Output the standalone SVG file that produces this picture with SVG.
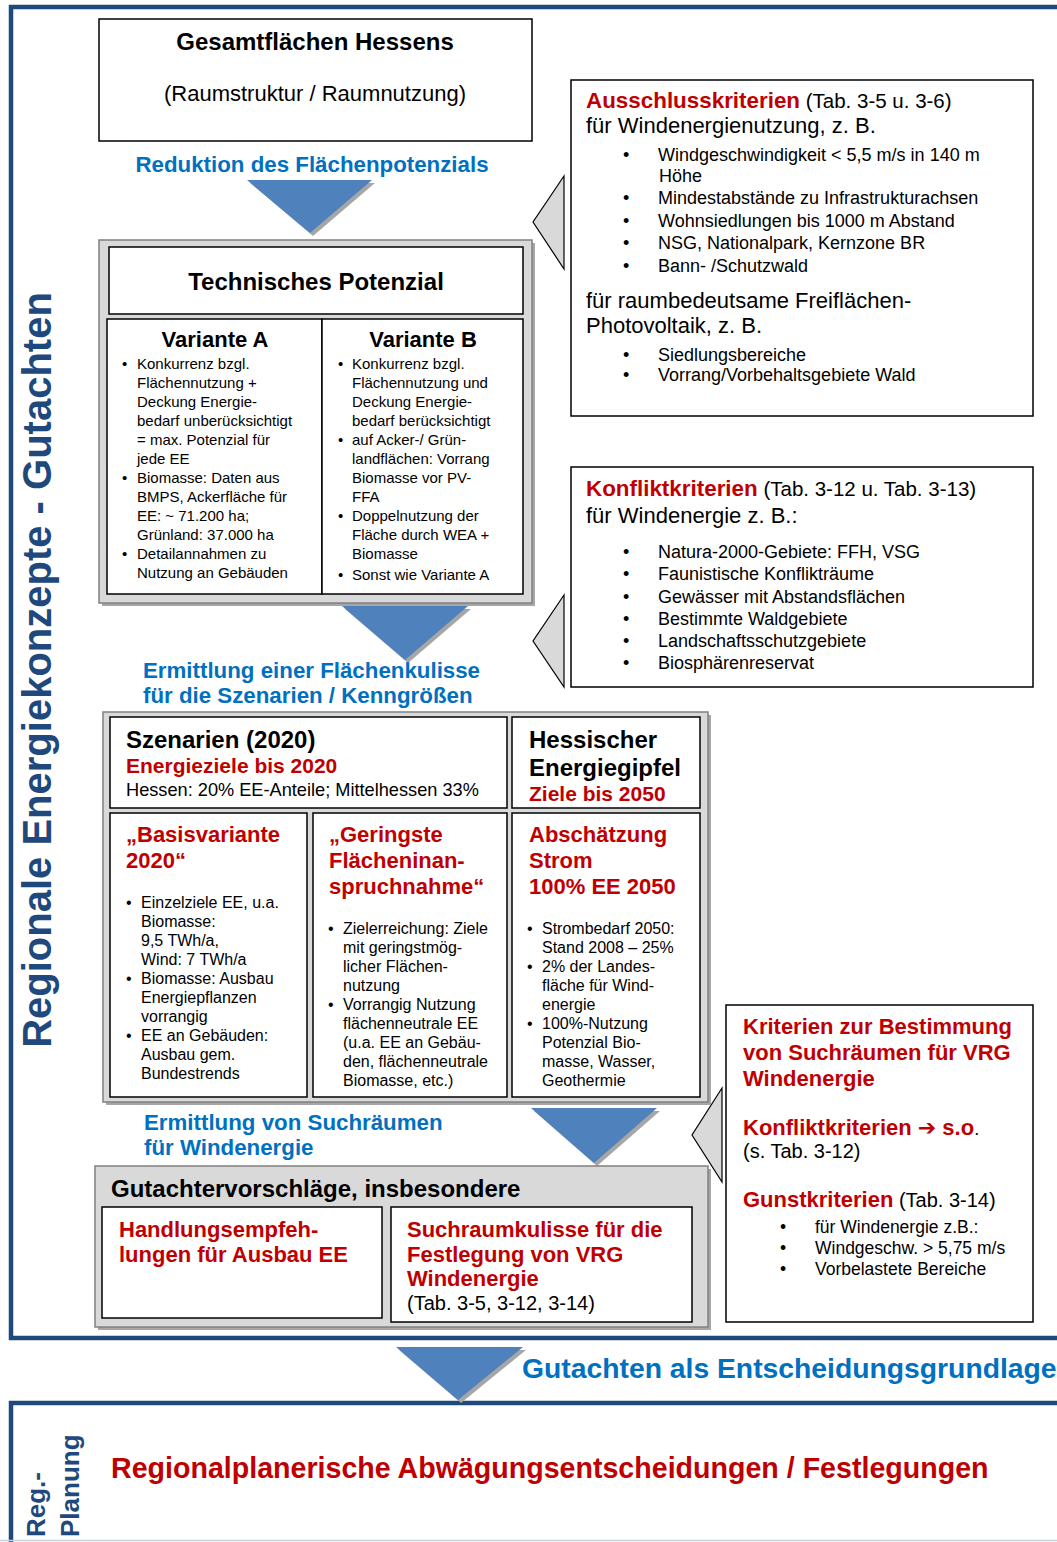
<svg xmlns="http://www.w3.org/2000/svg" width="1057" height="1542" viewBox="0 0 1057 1542">
<style>
text{font-family:"Liberation Sans",Arial,sans-serif;fill:#000}
.b{font-weight:bold}
.red{fill:#C00000}
.blu{fill:#0070C0}
.dk{fill:#1F497D}
.frame{fill:none;stroke:#1F497D;stroke-width:4.5}
.box{fill:#fff;stroke:#000;stroke-width:1.5}
.gbox{fill:#D9D9D9;stroke:#808080;stroke-width:1.5}
.gsh{fill:#A6A6A6}
.arr{fill:#4F81BD}
.ash{fill:#A6A6A6}
.tri{fill:#D9D9D9;stroke:#000;stroke-width:1.2}
.v{font-size:15px}
.m{font-size:16px}
.r{font-size:18px}
.h{font-size:22px}
.c{text-anchor:middle}
</style>
<rect width="1057" height="1542" fill="#fff"/>
<g id="frames">
<path class="frame" d="M1062 7 H11 V1338 H1062"/>
<path class="frame" d="M1062 1403 H11 V1548"/>
<line x1="0" y1="1540.5" x2="1057" y2="1540.5" stroke="#C8D2DF" stroke-width="1.5"/>
<text class="b dk" font-size="40" text-anchor="middle" transform="translate(51,670) rotate(-90)">Regionale Energiekonzepte - Gutachten</text>
<text class="b dk" font-size="26" transform="translate(45,1537) rotate(-90)">Reg.-</text>
<text class="b dk" font-size="26" transform="translate(79,1537) rotate(-90)">Planung</text>
</g>
<g id="connectors">
<polygon class="ash" points="250,183 375,183 313,236"/>
<polygon class="arr" points="247,180 372,180 310,233"/>
<polygon class="ash" points="345,609 471,609 408,663"/>
<polygon class="arr" points="342,606 468,606 405,660"/>
<polygon class="ash" points="534,1111 660,1111 597,1166"/>
<polygon class="arr" points="531,1108 657,1108 594,1163"/>
<polygon class="ash" points="399,1350 526,1350 461,1403"/>
<polygon class="arr" points="396,1347 523,1347 458,1400"/>
<polygon class="tri" points="564,176 533,222 564,269"/>
<polygon class="tri" points="564,595 533,641 564,687"/>
<polygon class="tri" points="722,1088 692,1135 722,1182"/>
<text class="b blu c" font-size="22.3" x="312" y="172">Reduktion des Flächenpotenzials</text>
<text class="b blu" font-size="22.3" x="143" y="678">Ermittlung einer Flächenkulisse</text>
<text class="b blu" font-size="22.3" x="143" y="703">für die Szenarien / Kenngrößen</text>
<text class="b blu" font-size="22.3" x="144" y="1130">Ermittlung von Suchräumen</text>
<text class="b blu" font-size="22.3" x="144" y="1155">für Windenergie</text>
<text class="b blu" font-size="28.3" x="522" y="1378">Gutachten als Entscheidungsgrundlage</text>
</g>
<g id="gesamt">
<rect class="box" x="99" y="19" width="433" height="122"/>
<text class="b c" font-size="24" x="315" y="50">Gesamtflächen Hessens</text>
<text class="h c" x="315" y="101">(Raumstruktur / Raumnutzung)</text>
</g>
<g id="technisch">
<rect class="gsh" x="102" y="243" width="433" height="363"/>
<rect class="gbox" x="99" y="240" width="433" height="363"/>
<rect class="box" x="109" y="247" width="414" height="67"/>
<text class="b c" font-size="24" x="316" y="290">Technisches Potenzial</text>
</g>
<g id="varianteA">
<rect class="box" x="107" y="319" width="215" height="275"/>
<text class="b h c" x="215" y="347">Variante A</text>
<g class="v">
<text x="122" y="369">•</text><text x="137" y="369">Konkurrenz bzgl.</text>
<text x="137" y="388">Flächennutzung +</text>
<text x="137" y="407">Deckung Energie-</text>
<text x="137" y="426">bedarf unberücksichtigt</text>
<text x="137" y="445">= max. Potenzial für</text>
<text x="137" y="464">jede EE</text>
<text x="122" y="483">•</text><text x="137" y="483">Biomasse: Daten aus</text>
<text x="137" y="502">BMPS, Ackerfläche für</text>
<text x="137" y="521">EE: ~ 71.200 ha;</text>
<text x="137" y="540">Grünland: 37.000 ha</text>
<text x="122" y="559">•</text><text x="137" y="559">Detailannahmen zu</text>
<text x="137" y="578">Nutzung an Gebäuden</text>
</g>
</g>
<g id="varianteB">
<rect class="box" x="322" y="319" width="201" height="275"/>
<text class="b h c" x="423" y="347">Variante B</text>
<g class="v">
<text x="338" y="369">•</text><text x="352" y="369">Konkurrenz bzgl.</text>
<text x="352" y="388">Flächennutzung und</text>
<text x="352" y="407">Deckung Energie-</text>
<text x="352" y="426">bedarf berücksichtigt</text>
<text x="338" y="445">•</text><text x="352" y="445">auf Acker-/ Grün-</text>
<text x="352" y="464">landflächen: Vorrang</text>
<text x="352" y="483">Biomasse vor PV-</text>
<text x="352" y="502">FFA</text>
<text x="338" y="521">•</text><text x="352" y="521">Doppelnutzung der</text>
<text x="352" y="540">Fläche durch WEA +</text>
<text x="352" y="559">Biomasse</text>
<text x="338" y="580">•</text><text x="352" y="580">Sonst wie Variante A</text>
</g>
</g>
<g id="ausschluss">
<rect class="box" x="571" y="80" width="462" height="336"/>
<text x="586" y="108"><tspan class="b red" font-size="22.4">Ausschlusskriterien</tspan><tspan font-size="20.5"> (Tab. 3-5 u. 3-6)</tspan></text>
<text class="h" x="586" y="133">für Windenergienutzung, z. B.</text>
<g class="r">
<text x="623" y="161">•</text><text x="658" y="161">Windgeschwindigkeit &lt; 5,5 m/s in 140 m</text>
<text x="659" y="182">Höhe</text>
<text x="623" y="204">•</text><text x="658" y="204">Mindestabstände zu Infrastrukturachsen</text>
<text x="623" y="227">•</text><text x="658" y="227">Wohnsiedlungen bis 1000 m Abstand</text>
<text x="623" y="249">•</text><text x="658" y="249">NSG, Nationalpark, Kernzone BR</text>
<text x="623" y="272">•</text><text x="658" y="272">Bann- /Schutzwald</text>
<text x="623" y="361">•</text><text x="658" y="361">Siedlungsbereiche</text>
<text x="623" y="381">•</text><text x="658" y="381">Vorrang/Vorbehaltsgebiete Wald</text>
</g>
<text class="h" x="586" y="308">für raumbedeutsame Freiflächen-</text>
<text class="h" x="586" y="333">Photovoltaik, z. B.</text>
</g>
<g id="konflikt">
<rect class="box" x="571" y="467" width="462" height="220"/>
<text x="586" y="496"><tspan class="b red" font-size="22.4">Konfliktkriterien</tspan><tspan font-size="20.5"> (Tab. 3-12 u. Tab. 3-13)</tspan></text>
<text class="h" x="586" y="523">für Windenergie z. B.:</text>
<g class="r">
<text x="623" y="558">•</text><text x="658" y="558">Natura-2000-Gebiete: FFH, VSG</text>
<text x="623" y="580">•</text><text x="658" y="580">Faunistische Konflikträume</text>
<text x="623" y="603">•</text><text x="658" y="603">Gewässer mit Abstandsflächen</text>
<text x="623" y="625">•</text><text x="658" y="625">Bestimmte Waldgebiete</text>
<text x="623" y="647">•</text><text x="658" y="647">Landschaftsschutzgebiete</text>
<text x="623" y="669">•</text><text x="658" y="669">Biosphärenreservat</text>
</g>
</g>
<g id="szenarien">
<rect class="gsh" x="106" y="715" width="605" height="390"/>
<rect class="gbox" x="103" y="712" width="605" height="390"/>
<rect class="box" x="110" y="717" width="397" height="91"/>
<text class="b" font-size="24" x="126" y="748">Szenarien (2020)</text>
<text class="b red" font-size="21" x="126" y="773">Energieziele bis 2020</text>
<text font-size="18.2" x="126" y="796">Hessen: 20% EE-Anteile; Mittelhessen 33%</text>
</g>
<g id="energiegipfel">
<rect class="box" x="512" y="717" width="188" height="91"/>
<text class="b" font-size="24" x="529" y="748">Hessischer</text>
<text class="b" font-size="24" x="529" y="776">Energiegipfel</text>
<text class="b red" font-size="21" x="529" y="801">Ziele bis 2050</text>
</g>
<g id="basisvariante">
<rect class="box" x="110" y="813" width="197" height="284"/>
<text class="b red h" x="126" y="842">„Basisvariante</text>
<text class="b red h" x="126" y="868">2020“</text>
<g class="m">
<text x="126" y="908">•</text><text x="141" y="908">Einzelziele EE, u.a.</text>
<text x="141" y="927">Biomasse:</text>
<text x="141" y="946">9,5 TWh/a,</text>
<text x="141" y="965">Wind: 7 TWh/a</text>
<text x="126" y="984">•</text><text x="141" y="984">Biomasse: Ausbau</text>
<text x="141" y="1003">Energiepflanzen</text>
<text x="141" y="1022">vorrangig</text>
<text x="126" y="1041">•</text><text x="141" y="1041">EE an Gebäuden:</text>
<text x="141" y="1060">Ausbau gem.</text>
<text x="141" y="1079">Bundestrends</text>
</g>
</g>
<g id="geringste">
<rect class="box" x="313" y="813" width="194" height="284"/>
<text class="b red h" x="329" y="842">„Geringste</text>
<text class="b red h" x="329" y="868">Flächeninan-</text>
<text class="b red h" x="329" y="894">spruchnahme“</text>
<g class="m">
<text x="328" y="934">•</text><text x="343" y="934">Zielerreichung: Ziele</text>
<text x="343" y="953">mit geringstmög-</text>
<text x="343" y="972">licher Flächen-</text>
<text x="343" y="991">nutzung</text>
<text x="328" y="1010">•</text><text x="343" y="1010">Vorrangig Nutzung</text>
<text x="343" y="1029">flächenneutrale EE</text>
<text x="343" y="1048">(u.a. EE an Gebäu-</text>
<text x="343" y="1067">den, flächenneutrale</text>
<text x="343" y="1086">Biomasse, etc.)</text>
</g>
</g>
<g id="abschaetzung">
<rect class="box" x="512" y="813" width="188" height="284"/>
<text class="b red h" x="529" y="842">Abschätzung</text>
<text class="b red h" x="529" y="868">Strom</text>
<text class="b red h" x="529" y="894">100% EE 2050</text>
<g class="m">
<text x="527" y="934">•</text><text x="542" y="934">Strombedarf 2050:</text>
<text x="542" y="953">Stand 2008 – 25%</text>
<text x="527" y="972">•</text><text x="542" y="972">2% der Landes-</text>
<text x="542" y="991">fläche für Wind-</text>
<text x="542" y="1010">energie</text>
<text x="527" y="1029">•</text><text x="542" y="1029">100%-Nutzung</text>
<text x="542" y="1048">Potenzial Bio-</text>
<text x="542" y="1067">masse, Wasser,</text>
<text x="542" y="1086">Geothermie</text>
</g>
</g>
<g id="kriterien">
<rect class="box" x="726" y="1005" width="307" height="317"/>
<text class="b red h" x="743" y="1034">Kriterien zur Bestimmung</text>
<text class="b red h" x="743" y="1060">von Suchräumen für VRG</text>
<text class="b red h" x="743" y="1086">Windenergie</text>
<text x="743" y="1135"><tspan class="b red h">Konfliktkriterien </tspan><tspan class="b red" font-size="22" font-family="'DejaVu Sans',sans-serif">➔</tspan><tspan class="b red h"> s.o</tspan><tspan font-size="18">.</tspan></text>
<text font-size="20" x="743" y="1158">(s. Tab. 3-12)</text>
<text x="743" y="1207"><tspan class="b red h">Gunstkriterien</tspan><tspan font-size="20"> (Tab. 3-14)</tspan></text>
<g font-size="17.5">
<text x="780" y="1233">•</text><text x="815" y="1233">für Windenergie z.B.:</text>
<text x="780" y="1254">•</text><text x="815" y="1254">Windgeschw. &gt; 5,75 m/s</text>
<text x="780" y="1275">•</text><text x="815" y="1275">Vorbelastete Bereiche</text>
</g>
</g>
<g id="gutachter">
<rect class="gsh" x="98" y="1169" width="613" height="161"/>
<rect class="gbox" x="95" y="1166" width="613" height="161"/>
<text class="b" font-size="24" x="111" y="1197">Gutachtervorschläge, insbesondere</text>
</g>
<g id="handlung">
<rect class="box" x="102" y="1207" width="280" height="111"/>
<text class="b red h" x="119" y="1237">Handlungsempfeh-</text>
<text class="b red h" x="119" y="1262">lungen für Ausbau EE</text>
</g>
<g id="suchraum">
<rect class="box" x="391" y="1207" width="301" height="115"/>
<text class="b red h" x="407" y="1237">Suchraumkulisse für die</text>
<text class="b red h" x="407" y="1262">Festlegung von VRG</text>
<text class="b red h" x="407" y="1286">Windenergie</text>
<text font-size="20" x="407" y="1310">(Tab. 3-5, 3-12, 3-14)</text>
</g>
<g id="regionalplanung">
<text class="b red" font-size="28.6" x="111" y="1478">Regionalplanerische Abwägungsentscheidungen / Festlegungen</text>
</g>
</svg>
